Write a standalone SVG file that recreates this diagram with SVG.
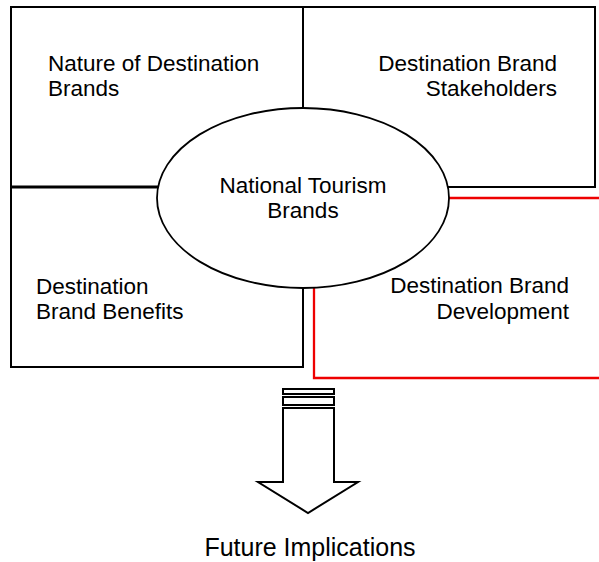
<svg xmlns="http://www.w3.org/2000/svg" width="599" height="562" viewBox="0 0 599 562">
<style>
.ln{fill:none;stroke:#000;stroke-width:2}
.rd{fill:none;stroke:#e00;stroke-width:2.3}
.t{font-family:"Liberation Sans",Arial,sans-serif;font-size:22.5px;fill:#000}
.sh{fill:#fff;stroke:#000;stroke-width:2}
</style>
<rect width="599" height="562" fill="#fff"/>
<g id="connectors">
<polyline class="ln" points="303,108 303,7 11,7 11,367 303,367 303,288"/>
<polyline class="ln" points="303,7 595,7 595,187 448,187"/>
<line class="ln" x1="11" y1="187" x2="158" y2="187" style="stroke-width:3"/>
<polyline class="rd" points="449,198 599,198"/>
<polyline class="rd" points="314,287 314,378 599,378"/>
</g>
<g id="nature">
<text class="t" x="48" y="71">Nature of Destination</text>
<text class="t" x="48" y="96">Brands</text>
</g>
<g id="stakeholders">
<text class="t" x="557" y="71" text-anchor="end">Destination Brand</text>
<text class="t" x="557" y="96" text-anchor="end">Stakeholders</text>
</g>
<g id="benefits">
<text class="t" x="36" y="294">Destination</text>
<text class="t" x="36" y="319">Brand Benefits</text>
</g>
<g id="development">
<text class="t" x="569" y="293" text-anchor="end">Destination Brand</text>
<text class="t" x="569" y="319" text-anchor="end">Development</text>
</g>
<g id="center">
<ellipse cx="303" cy="198" rx="146" ry="90" fill="#fff" stroke="#000" stroke-width="1.8"/>
<text class="t" x="303" y="193" text-anchor="middle">National Tourism</text>
<text class="t" x="303" y="218" text-anchor="middle">Brands</text>
</g>
<g id="arrow">
<rect class="sh" x="283" y="389" width="51" height="5"/>
<rect class="sh" x="283" y="397" width="51" height="8"/>
<polygon class="sh" points="283,408 334,408 334,482 358,482 308,513 258,482 283,482"/>
</g>
<g id="future">
<text class="t" x="310" y="556" text-anchor="middle" style="font-size:25px">Future Implications</text>
</g>
</svg>
